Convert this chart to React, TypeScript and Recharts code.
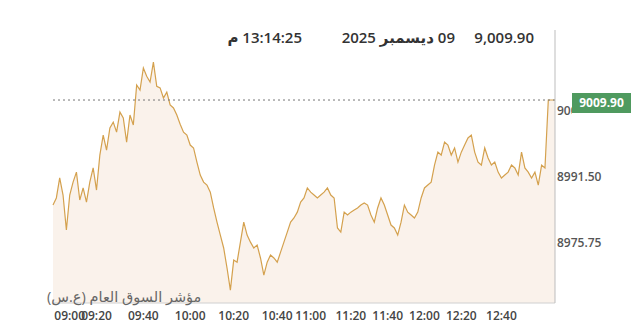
import { Area, AreaChart, ReferenceLine, XAxis, YAxis } from "recharts"

// index price (one sample every ~3px)
const prices = [
  8984.7, 8986.4, 8991.2, 8987.1, 8978.7, 8987.1, 8990.2, 8992.6, 8985.9, 8988.8,
  8985.4, 8990.2, 8993.6, 8988.3, 8996.7, 9001.5, 8997.9, 9003.2, 9004.6, 9002.2,
  9007.0, 9005.6, 8999.8, 9006.3, 9003.9, 9013.5, 9012.3, 9017.6, 9015.6, 9014.2,
  9019.0, 9013.2, 9012.8, 9010.4, 9011.8, 9008.7, 9008.0, 9006.3, 9004.1, 9002.2,
  9001.5, 8999.1, 8998.4, 8995.0, 8991.9, 8990.2, 8989.5, 8987.8, 8984.0, 8980.6,
  8977.5, 8974.4, 8969.6, 8964.3, 8971.5, 8971.0, 8975.8, 8980.6, 8977.5, 8975.8,
  8974.4, 8975.1, 8972.0, 8967.9, 8971.0, 8972.7, 8972.0, 8971.0, 8973.4, 8975.8,
  8978.2, 8980.6, 8981.6, 8983.0, 8985.4, 8986.4, 8988.8, 8987.8, 8987.1, 8986.4,
  8987.1, 8987.8, 8988.8, 8987.1, 8986.4, 8979.2, 8978.2, 8983.0, 8982.3, 8983.0,
  8983.5, 8984.0, 8984.7, 8985.2, 8984.7, 8982.3, 8980.6, 8984.0, 8986.4, 8984.7,
  8982.3, 8979.9, 8979.2, 8977.5, 8980.6, 8984.7, 8983.0, 8982.3, 8981.6, 8983.0,
  8986.4, 8988.8, 8989.5, 8990.2, 8994.3, 8997.4, 8996.7, 8999.8, 8999.1, 8996.7,
  8998.4, 8995.0, 8997.4, 8999.1, 9000.8, 9001.5, 8997.4, 8995.0, 8994.3, 8998.4,
  8996.0, 8994.3, 8995.0, 8992.6, 8991.2, 8991.9, 8992.6, 8994.3, 8993.6, 8991.9,
  8997.4, 8993.6, 8992.6, 8991.2, 8992.6, 8989.5, 8994.3, 8993.6, 9009.9, 9009.9,
  9009.9,
]

const lastPrice = 9009.9
const yTicks = [8975.75, 8991.5, 9007.25]
const tickIdx = [5, 13, 27, 41, 54, 67, 77, 89, 100, 111, 122, 134]
const tickLabels = ["09:00", "09:20", "09:40", "10:00", "10:20", "10:40", "11:00", "11:20", "11:40", "12:00", "12:20", "12:40"]

const rows = prices.map((p, i) => ({ i, p }))

const font = "'Open Sans', 'Noto Sans', 'DejaVu Sans', sans-serif"

const headStyle = { position: "absolute" as const, top: 27, fontSize: 15, fontWeight: 600, color: "#333", direction: "rtl" as const, whiteSpace: "nowrap" as const }

export default function App() {
  return (
    <div style={{ position: "absolute", left: 0, top: 0, width: 640, height: 333, background: "#fff", fontFamily: font }}>
      <AreaChart width={640} height={333} data={rows} margin={{ top: 30, right: 0, bottom: 0, left: 53 }}>
        <XAxis
          dataKey="i"
          type="number"
          domain={[0, 150]}
          ticks={tickIdx}
          interval={0}
          tickFormatter={(v: number) => tickLabels[tickIdx.indexOf(v)]}
          tickLine={false}
          axisLine={{ stroke: "#d0d0d0" }}
          height={30}
          tick={{ fontSize: 12, fontWeight: 600, fill: "#444", fontFamily: font }}
        />
        <YAxis
          orientation="right"
          domain={[8961.2, 9026.7]}
          ticks={yTicks}
          tickLine={false}
          tickSize={0}
          tickMargin={2}
          width={85}
          axisLine={{ stroke: "#bdbdbd" }}
          tickFormatter={(v: number) => v.toFixed(2)}
          tick={{ fontSize: 12, fontWeight: 600, fill: "#555", fontFamily: font, textAnchor: "start" }}
        />
        <Area
          type="linear"
          dataKey="p"
          stroke="#d4a14e"
          strokeWidth={1.2}
          fill="#faf2eb"
          fillOpacity={1}
          baseValue={8961.2}
          isAnimationActive={false}
        />
        <ReferenceLine y={lastPrice} stroke="#777" strokeDasharray="2 3" />
      </AreaChart>
      {/* last-price tag, drawn over the axis so it hides most of the top tick like the original */}
      <div style={{ position: "absolute", left: 572, top: 92, width: 62, height: 26, background: "#fff" }} />
      <div style={{ position: "absolute", left: 572, top: 93, width: 59, height: 20, lineHeight: "20px", background: "#4f9a5f", color: "#fff", fontSize: 12, fontWeight: 700, textAlign: "center" }}>
        {lastPrice.toFixed(2)}
      </div>
      <div style={{ ...headStyle, right: 106 }}>9,009.90</div>
      <div style={{ ...headStyle, right: 185 }}>09 ديسمبر 2025</div>
      <div style={{ ...headStyle, right: 338 }}>13:14:25 م</div>
      <div style={{ position: "absolute", left: 47, top: 287, fontSize: 14.5, color: "#666", direction: "rtl", whiteSpace: "nowrap" }}>
        مؤشر السوق العام (ع.س)
      </div>
    </div>
  )
}
